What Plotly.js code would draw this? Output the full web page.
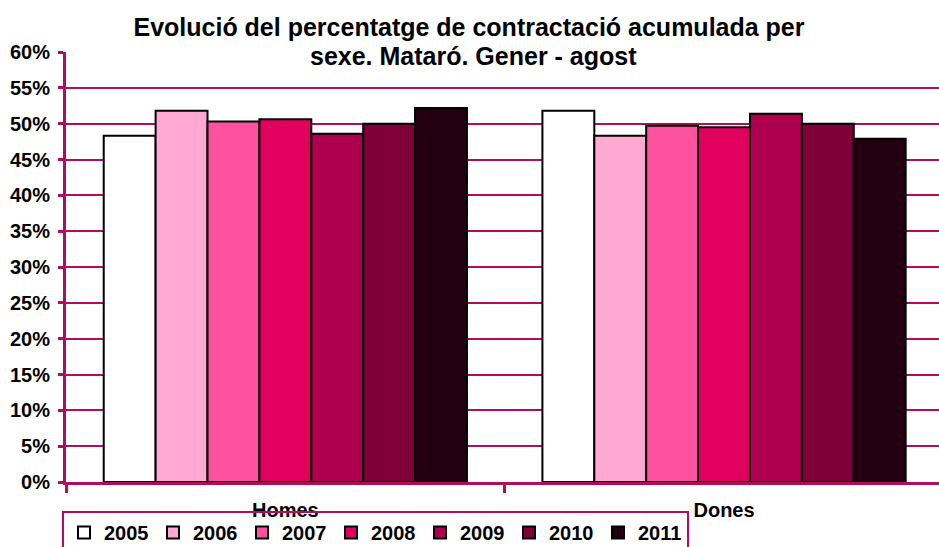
<!DOCTYPE html>
<html>
<head>
<meta charset="utf-8">
<script src="https://cdn.plot.ly/plotly-3.0.1.min.js"></script>
<style>html,body{margin:0;padding:0;overflow:hidden;background:#fff;}</style>
</head>
<body>
<div id="chart" style="width:939px;height:547px;"></div>
<script>
const categories = ["Homes", "Dones"];
const years = ["2005", "2006", "2007", "2008", "2009", "2010", "2011"];
const v2005 = [48.3, 51.8];
const v2006 = [51.8, 48.3];
const v2007 = [50.3, 49.7];
const v2008 = [50.6, 49.5];
const v2009 = [48.6, 51.4];
const v2010 = [50.0, 50.0];
const v2011 = [52.2, 47.9];
const seriesValues = [v2005, v2006, v2007, v2008, v2009, v2010, v2011];
const colors = ["#FFFFFF", "#FFA9D3", "#FF529E", "#E2005F", "#AF004F", "#7F0037", "#230011"];
const yTicks = [0, 5, 10, 15, 20, 25, 30, 35, 40, 45, 50, 55, 60];

const crimson = "#B20C5C";
const fontFam = "Liberation Sans, Arial, sans-serif";

const traces = years.map((y, i) => ({
  type: "bar",
  name: y,
  x: categories,
  y: seriesValues[i],
  marker: {color: colors[i], line: {color: "#000000", width: 2}},
  hoverinfo: "none"
}));

const layout = {
  width: 939, height: 547,
  margin: {l: 66, r: 0, t: 52, b: 65, autoexpand: false},
  paper_bgcolor: "#FFFFFF", plot_bgcolor: "#FFFFFF",
  font: {family: fontFam, color: "#000000", size: 20, weight: "bold"},
  title: {
    text: "Evolució del percentatge de contractació acumulada per",
    font: {family: fontFam, size: 25, weight: "bold", color: "#000000"},
    xref: "container", x: 469 / 939, xanchor: "center",
    yref: "container", y: 1 - 27/547, yanchor: "middle"
  },
  annotations: [{
    text: "sexe. Mataró. Gener - agost",
    xref: "paper", yref: "paper",
    x: (473 - 66) / 873, y: (482 - 56) / 430,
    xanchor: "center", yanchor: "middle",
    showarrow: false,
    font: {family: fontFam, size: 25, weight: "bold", color: "#000000"}
  }],
  barmode: "group",
  bargap: 0.172,
  bargroupgap: 0,
  xaxis: {
    type: "category",
    range: [-0.5, 1.49],
    tickson: "boundaries",
    ticks: "outside", ticklen: 8, tickwidth: 3, tickcolor: crimson,
    showline: true, linecolor: crimson, linewidth: 3,
    showgrid: false,
    automargin: false,
    ticklabelstandoff: 8,
    tickfont: {family: fontFam, size: 20, weight: "bold", color: "#000000"}
  },
  yaxis: {
    range: [0, 60],
    tickmode: "array",
    tickvals: yTicks,
    ticktext: yTicks.map(t => t + "%"),
    ticks: "outside", ticklen: 5, tickwidth: 3, tickcolor: crimson,
    showline: true, linecolor: crimson, linewidth: 3,
    showgrid: true, gridcolor: crimson, gridwidth: 2,
    zeroline: false,
    automargin: false,
    ticklabelstandoff: 4,
    tickfont: {family: fontFam, size: 20, weight: "bold", color: "#000000"}
  },
  showlegend: true,
  legend: {
    orientation: "h",
    xref: "container", yref: "container",
    x: 62 / 939, xanchor: "left",
    y: 1 - 511 / 547, yanchor: "top",
    bordercolor: crimson, borderwidth: 2,
    bgcolor: "rgba(255,255,255,0)",
    entrywidth: 44, entrywidthmode: "pixels",
    traceorder: "normal",
    font: {family: fontFam, size: 20, weight: "bold", color: "#000000"}
  }
};

Plotly.newPlot("chart", traces, layout, {displayModeBar: false, staticPlot: true});
</script>
</body>
</html>
